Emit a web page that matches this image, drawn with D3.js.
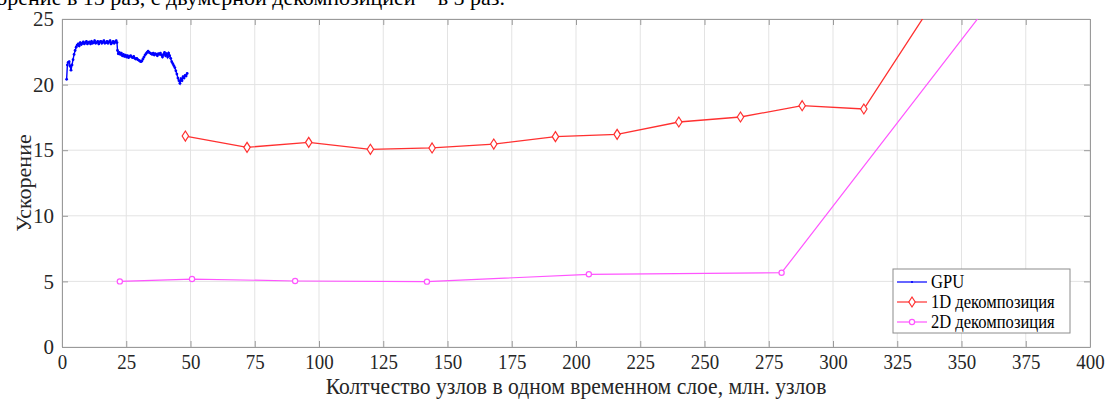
<!DOCTYPE html>
<html>
<head>
<meta charset="utf-8">
<script src="https://cdn.jsdelivr.net/npm/d3@7"></script>
<style>
  body { margin: 0; background: #fff; }
  svg text { font-family: "Liberation Serif", "Times New Roman", serif; }
</style>
</head>
<body>
<svg id="chart" width="1107" height="402"></svg>
<script>
// x ticks / y ticks
var xTicks = [0, 25, 50, 75, 100, 125, 150, 175, 200, 225, 250, 275, 300, 325, 350, 375, 400];
var yTicks = [0, 5, 10, 15, 20, 25];

// GPU (x, speedup)
var gpuX = [1.8, 2.1, 2.4, 2.8, 3.2, 3.5, 3.9, 4.3, 4.7, 5.1, 5.5, 5.9, 6.3, 6.7, 7.1, 7.5, 7.9, 8.3, 8.7, 9.1,
  9.5, 9.9, 10.3, 10.7, 11.1, 11.5, 11.9, 12.3, 12.7, 13.1, 13.5, 13.9, 14.3, 14.7, 15.1, 15.5, 15.9, 16.3, 16.7, 17.1,
  17.5, 17.9, 18.3, 18.7, 19.1, 19.5, 19.9, 20.3, 20.7, 21.1, 21.4, 21.6, 21.9, 22.3, 22.7, 23.1, 23.5, 23.9, 24.3, 24.7,
  25.1, 25.5, 25.9, 26.3, 26.7, 27.1, 27.5, 27.9, 28.3, 28.7, 29.1, 29.5, 29.9, 30.3, 30.7, 31.1, 31.5, 31.9, 32.3, 32.7,
  33.1, 33.5, 33.9, 34.3, 34.7, 35.1, 35.5, 35.9, 36.3, 36.7, 37.1, 37.5, 37.9, 38.3, 38.7, 39.1, 39.5, 39.9, 40.3, 40.7,
  41.1, 41.5, 41.9, 42.3, 42.7, 43.1, 43.5, 43.9, 44.3, 44.7, 45.1, 45.5, 45.9, 46.3, 46.7, 47.1, 47.5, 47.9, 48.3, 48.7];
var gpuY = [20.4, 21.5, 21.7, 21.75, 21.4, 21.1, 21.5, 21.9, 22.3, 22.6, 22.85, 23.0, 23.1, 22.95, 23.2, 23.05, 23.15, 23.25, 23.1, 23.2,
  23.3, 23.1, 23.2, 23.25, 23.1, 23.3, 23.15, 23.2, 23.35, 23.15, 23.2, 23.3, 23.1, 23.25, 23.3, 23.15, 23.25, 23.35, 23.15, 23.2,
  23.3, 23.15, 23.25, 23.35, 23.1, 23.2, 23.3, 23.15, 23.25, 23.35, 23.2, 22.6, 22.35, 22.45, 22.3, 22.4, 22.2, 22.3, 22.15, 22.25,
  22.1, 22.2, 22.05, 22.15, 22.2, 22.1, 22.05, 22.15, 22.0, 21.95, 22.0, 21.9, 21.85, 21.8, 21.75, 21.8, 21.95, 22.1, 22.25, 22.35,
  22.45, 22.55, 22.45, 22.4, 22.35, 22.3, 22.4, 22.25, 22.35, 22.3, 22.2, 22.35, 22.3, 22.4, 22.25, 22.1, 22.3, 22.45, 22.2, 22.35,
  22.1, 22.4, 22.2, 22.0, 21.75, 21.6, 21.45, 21.3, 21.05, 20.8, 20.5, 20.3, 20.1, 20.45, 20.3, 20.6, 20.5, 20.7, 20.65, 20.85];

// 1D decomposition
var d1X = [48, 72, 96, 120, 144, 168, 192, 216, 240, 264, 288, 312, 336];
var d1Y = [16.08, 15.22, 15.6, 15.07, 15.17, 15.47, 16.03, 16.21, 17.15, 17.53, 18.39, 18.14, 25.36];

// 2D decomposition
var d2X = [22.5, 50.6, 90.7, 142, 205, 280, 360];
var d2Y = [5.0, 5.18, 5.03, 4.98, 5.54, 5.66, 25.96];

var legendNames = ["GPU", "1D декомпозиция", "2D декомпозиция"];

var svg = d3.select("#chart");
var margin = {left: 62, top: 19, right: 17, bottom: 55};
var W = 1107, H = 402;
var sx = 0.9; // the figure is a bit squeezed sideways

var x = d3.scaleLinear().domain([0, 400]).range([margin.left, W - margin.right]);
var y = d3.scaleLinear().domain([0, 25]).range([H - margin.bottom, margin.top]);

// cut-off caption line above the figure
svg.append("text")
  .attr("x", 505).attr("y", 5)
  .attr("text-anchor", "end")
  .attr("font-size", 22)
  .attr("fill", "#000")
  .text("ускорение в 15 раз, с двумерной декомпозицией – в 5 раз.");

// grid
svg.append("g").selectAll("line").data(xTicks).join("line")
  .attr("x1", d => x(d)).attr("x2", d => x(d))
  .attr("y1", y(0)).attr("y2", y(25))
  .attr("stroke", "#e3e3e3").attr("stroke-width", 1);
svg.append("g").selectAll("line").data(yTicks).join("line")
  .attr("y1", d => y(d)).attr("y2", d => y(d))
  .attr("x1", x(0)).attr("x2", x(400))
  .attr("stroke", "#e3e3e3").attr("stroke-width", 1);

// axes with inward ticks
var axisCol = "#9a9a9a";
var xB = svg.append("g").attr("transform", "translate(0," + y(0) + ")")
  .call(d3.axisBottom(x).tickValues(xTicks).tickSizeInner(-6).tickSizeOuter(0).tickPadding(7));
var xT = svg.append("g").attr("transform", "translate(0," + y(25) + ")")
  .call(d3.axisTop(x).tickValues(xTicks).tickSizeInner(-6).tickSizeOuter(0).tickFormat(""));
var yL = svg.append("g").attr("transform", "translate(" + x(0) + ",0)")
  .call(d3.axisLeft(y).tickValues(yTicks).tickSizeInner(-6).tickSizeOuter(0).tickPadding(8));
var yR = svg.append("g").attr("transform", "translate(" + x(400) + ",0)")
  .call(d3.axisRight(y).tickValues(yTicks).tickSizeInner(-6).tickSizeOuter(0).tickFormat(""));
[xB, xT, yL, yR].forEach(function (g) {
  g.select(".domain").attr("stroke", axisCol);
  g.selectAll(".tick line").attr("stroke", axisCol);
  g.selectAll(".tick text").attr("fill", "#262626").attr("font-size", 21)
    .attr("font-family", "Liberation Serif, serif");
});
xB.selectAll(".tick text").attr("transform", "scale(" + sx + ",1)");

// axis labels
svg.append("text")
  .attr("transform", "translate(" + ((x(0) + x(400)) / 2) + ",394) scale(" + sx + ",1)")
  .attr("text-anchor", "middle").attr("font-size", 24).attr("fill", "#262626")
  .text("Колтчество узлов в одном временном слое, млн. узлов");
svg.append("text")
  .attr("transform", "translate(31," + (y(12.5)) + ") rotate(-90)")
  .attr("text-anchor", "middle").attr("font-size", 22).attr("fill", "#262626")
  .text("Ускорение");

// clip for data
svg.append("clipPath").attr("id", "clip").append("rect")
  .attr("x", x(0)).attr("y", y(25)).attr("width", x(400) - x(0)).attr("height", y(0) - y(25));
var plot = svg.append("g").attr("clip-path", "url(#clip)");

var line = d3.line().x(d => x(d[0])).y(d => y(d[1]));
var gpu = d3.zip(gpuX, gpuY), d1 = d3.zip(d1X, d1Y), d2 = d3.zip(d2X, d2Y);

plot.append("path").datum(gpu).attr("d", line)
  .attr("fill", "none").attr("stroke", "#0000ff").attr("stroke-width", 1.4);
plot.selectAll(".gp").data(gpu).join("circle").attr("class", "gp")
  .attr("cx", d => x(d[0])).attr("cy", d => y(d[1])).attr("r", 1.4).attr("fill", "#0000ff");

plot.append("path").datum(d1).attr("d", line)
  .attr("fill", "none").attr("stroke", "#ff3030").attr("stroke-width", 1.3);
var diamond = "M0,-5L3.2,0L0,5L-3.2,0Z";
plot.selectAll(".d1").data(d1.filter(d => d[1] <= 25)).join("path").attr("class", "d1")
  .attr("transform", d => "translate(" + x(d[0]) + "," + y(d[1]) + ")")
  .attr("d", diamond).attr("fill", "#fff").attr("stroke", "#ff3030").attr("stroke-width", 1.2);

plot.append("path").datum(d2).attr("d", line)
  .attr("fill", "none").attr("stroke", "#ff55ff").attr("stroke-width", 1.2);
plot.selectAll(".d2").data(d2.filter(d => d[1] <= 25)).join("circle").attr("class", "d2")
  .attr("cx", d => x(d[0])).attr("cy", d => y(d[1])).attr("r", 2.6)
  .attr("fill", "#fff").attr("stroke", "#ff55ff").attr("stroke-width", 1.2);

// legend
var lg = svg.append("g").attr("transform", "translate(893,269)");
lg.append("rect").attr("width", 177).attr("height", 64)
  .attr("fill", "#fff").attr("stroke", "#8c8c8c").attr("stroke-width", 1);
var cols = ["#0000ff", "#ff3030", "#ff55ff"];
legendNames.forEach(function (n, i) {
  var yy = 13 + i * 20;
  lg.append("line").attr("x1", 4).attr("x2", 34).attr("y1", yy).attr("y2", yy)
    .attr("stroke", cols[i]).attr("stroke-width", 1.2);
  if (i === 0) lg.append("circle").attr("cx", 19).attr("cy", yy).attr("r", 1.1).attr("fill", cols[0]);
  if (i === 1) lg.append("path").attr("transform", "translate(19," + yy + ")").attr("d", diamond)
    .attr("fill", "#fff").attr("stroke", cols[1]).attr("stroke-width", 1.2);
  if (i === 2) lg.append("circle").attr("cx", 19).attr("cy", yy).attr("r", 2.6)
    .attr("fill", "#fff").attr("stroke", cols[2]).attr("stroke-width", 1.2);
  lg.append("text").attr("transform", "translate(38," + (yy + 6) + ") scale(0.92,1)")
    .attr("font-size", 18).attr("fill", "#000").text(n);
});
</script>
</body>
</html>
